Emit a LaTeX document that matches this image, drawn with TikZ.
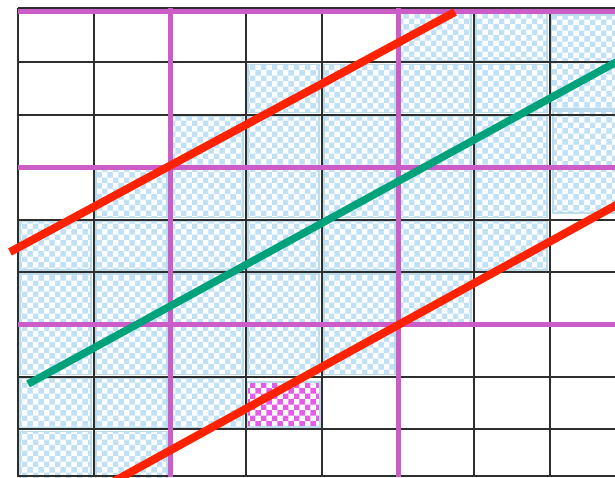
\documentclass[tikz,border=0pt]{standalone}
\usepackage{tikz}
\usetikzlibrary{patterns}
\definecolor{gridc}{HTML}{2E2E2E}
\definecolor{lilac}{HTML}{CC5CC8}
\definecolor{redline}{HTML}{FF2200}
\definecolor{greenline}{HTML}{00A27C}
\definecolor{cellblue}{HTML}{C0E0F6}
\definecolor{celledge}{HTML}{BCDCEE}
\definecolor{pinkc}{HTML}{E45CE8}

\begin{document}
\begin{tikzpicture}[x=1pt,y=-1pt,
  cell/.style={pattern=checkerboard,pattern color=cellblue,draw=celledge,line width=1.2pt},
  gridline/.style={draw=gridc,line width=2pt},
  thirds/.style={draw=lilac,line width=5pt}]
\useasboundingbox (0,0) rectangle (615,477);\clip (0,0) rectangle (615,477);
% shaded cells, row by row
\foreach \r/\cs in {0/{5,6},1/{3,4,5,6},2/{2,3,4,5,6},3/{1,2,3,4,5,6},4/{0,1,2,3,4,5,6},5/{0,1,2,3,4,5},6/{0,1,2,3,4},7/{0,1,2},8/{0,1}}{
  \foreach \c in \cs {\draw[cell] ({20+76*\c},{12+52.4*\r}) rectangle ({91+76*\c},{60.4+52.4*\r});}}
\draw[cell] (551,15) rectangle (640,109);\draw[cell] (553,111) rectangle (640,213);
\draw[cell,pattern color=pinkc] (247,382) rectangle (320,427);
% grid
\foreach \i in {0,...,7} \draw[gridline] ({18+76*\i},8)--({18+76*\i},477);
\foreach \j in {1,...,8} \draw[gridline] (18,{10+52.4*\j})--(640,{10+52.4*\j});
\draw[gridline] (18,8)--(640,8);\draw[gridline] (18,476)--(640,476);
% every third line
\draw[thirds] (18,11.5)--(640,11.5);\draw[thirds] (18,167.2)--(640,167.2);\draw[thirds] (18,324.4)--(640,324.4);
\draw[thirds] (170,8)--(170,477);\draw[thirds] (398,8)--(398,477);
% the band
\draw[line width=8pt,redline] (10,252)--(455,12);
\draw[line width=7.5pt,greenline] (28,384)--(640,49);
\draw[line width=8pt,redline] (100,489)--(640,192);
\end{tikzpicture}
\end{document}
